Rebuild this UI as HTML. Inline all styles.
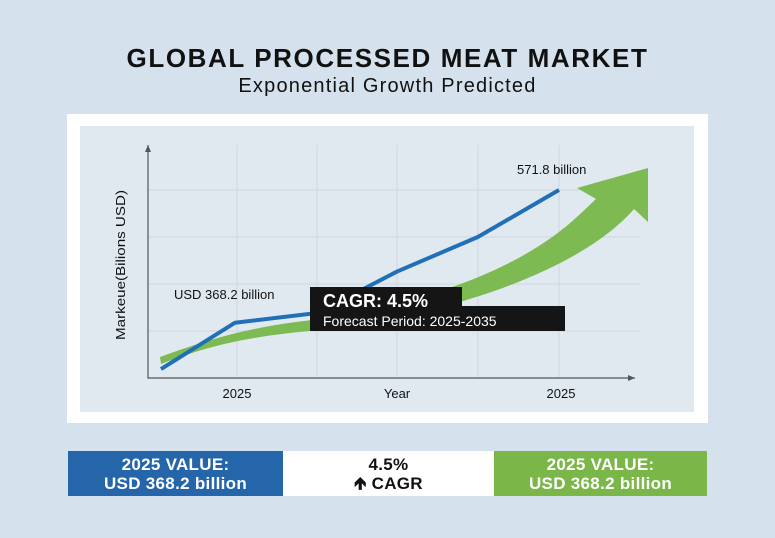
<!DOCTYPE html>
<html><head><meta charset="utf-8">
<style>
body{margin:0;width:775px;height:538px;overflow:hidden;background:#d5e1ec;font-family:"Liberation Sans",sans-serif;position:relative}
.t{position:absolute;left:0;width:775px;text-align:center;color:#111}
.box{position:absolute;top:451px;height:45px;display:flex;align-items:center;justify-content:center;text-align:center;font-weight:bold;font-size:17px;line-height:19px;letter-spacing:0.3px}
</style></head><body>
<div class="t" style="top:43px;font-size:26px;font-weight:bold;letter-spacing:1.6px">GLOBAL PROCESSED MEAT MARKET</div>
<div class="t" style="top:75px;font-size:20px;letter-spacing:1.2px">Exponential Growth Predicted</div>
<div style="position:absolute;left:67px;top:114px;width:641px;height:309px;background:#fff"></div>
<div style="position:absolute;left:80px;top:126px;width:614px;height:286px;background:#e1e9f0"></div>
<svg id="chart" width="775" height="538" style="position:absolute;left:0;top:0" font-family="Liberation Sans, sans-serif"></svg>
<div class="box" style="left:68px;width:215px;background:#2565a9;color:#fff">2025 VALUE:<br>USD 368.2 billion</div>
<div class="box" style="left:283px;width:211px;background:#fff;color:#111">4.5%<br>&#129145; CAGR</div>
<div class="box" style="left:494px;width:213px;background:#7ab648;color:#fff">2025 VALUE:<br>USD 368.2 billion</div>
<script>
const categories=["2020","2025","2027","2029","2031","2035"];
const blueValues=[313,380,394,454,504,572];
const gridValues=[368,436,504,572];
const xTickLabels=["2025","Year","2025"];
const svg=document.getElementById('chart');
const NS='http://www.w3.org/2000/svg';
function xs(i){return 161+(559-161)*[0,0.186,0.392,0.593,0.796,1][i];}
function y(v){return 378-(v-300)*(47/68);}
function mk(t,a){const e=document.createElementNS(NS,t);for(const k in a)e.setAttribute(k,a[k]);svg.appendChild(e);return e;}
[237,317,397,478,559].forEach((gx,i)=>{const l=mk('line',{x1:gx,y1:145,x2:gx,y2:378,stroke:'#cdd6df','stroke-width':1});

});
gridValues.forEach(v=>{const l=mk('line',{x1:148,y1:y(v),x2:640,y2:y(v),stroke:'#cdd6df','stroke-width':1});

});
let ax=mk('path',{d:'M148,145 V378 H635',fill:'none',stroke:'#555','stroke-width':1.2});


mk('path',{d:'M145,152 L148,145 L151,152 Z',fill:'#555'});
mk('path',{d:'M628,375 L635,378 L628,381 Z',fill:'#555'});
let arrow=mk('path',{d:'M160,357 C220,335 260,325 330,318 C430,300 520,270 578,216 L596,199 L577,188 L648,168 L648,222 L634,209 C590,260 480,310 320,330 C250,336 210,345 161,364 Z',fill:'#7dbb52'});


const pts=blueValues.map((v,i)=>xs(i)+','+y(v)).join(' ');
let bl=mk('polyline',{points:pts,fill:'none',stroke:'#2070b8','stroke-width':4,'stroke-linejoin':'round'});


function tx(s,a,name){const e=mk('text',a);e.textContent=s;return e;}
[[237,0],[397,1],[561,2]].forEach(([px,i])=>tx(xTickLabels[i],{x:px,y:398,'font-size':13,'text-anchor':'middle',fill:'#111'},'x-tick-label'));
tx('Markeue(Bilions USD)',{x:0,y:0,'font-size':13,'text-anchor':'middle',fill:'#111',transform:'translate(125,265) rotate(-90)','textLength':150,'lengthAdjust':'spacingAndGlyphs'},'y-axis-title');
tx('USD 368.2 billion',{x:174,y:299,'font-size':13,fill:'#111'},'start-value-label');
tx('571.8 billion',{x:517,y:174,'font-size':13,fill:'#111'},'end-value-label');
let b1=mk('rect',{x:310,y:287,width:152,height:24,fill:'#151515'});


let b2=mk('rect',{x:310,y:306,width:255,height:25,fill:'#151515'});


tx('CAGR: 4.5%',{x:323,y:307,'font-size':18,'font-weight':'bold',fill:'#fff'},'cagr-label');
tx('Forecast Period: 2025-2035',{x:323,y:326,'font-size':14,fill:'#fff'},'forecast-period-label');
</script>
</body></html>
